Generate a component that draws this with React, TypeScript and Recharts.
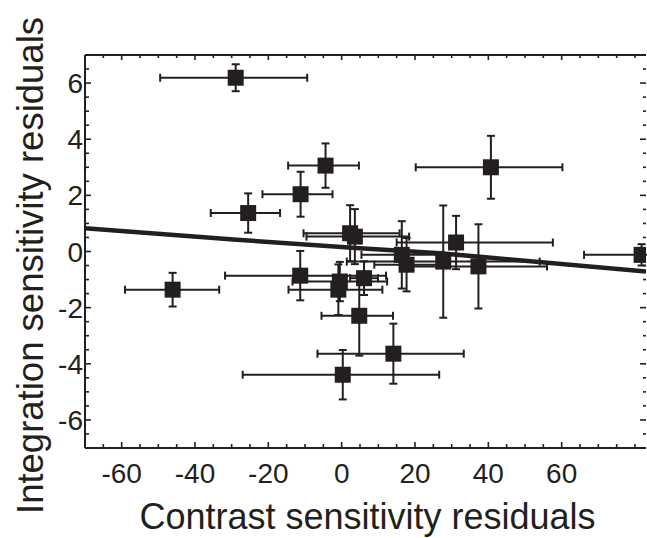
import { ErrorBar, Label, Scatter, ScatterChart, XAxis, YAxis } from "recharts";

const INK = "#231f20";
const FONT = '"Liberation Sans", Arial, sans-serif';

// one entry per subject
const contrastResiduals = [-28.9, -25.5, -11.2, -4.4, 2.3, 3.6, 16.4, 17.7, 31.2, 27.7, 37.3, 81.8, -11.3, -46.1, -0.5, -0.9, 6.1, 4.8, 14.1, 0.3, 40.7];
const integrationResiduals = [6.19, 1.37, 2.04, 3.06, 0.65, 0.53, -0.12, -0.47, 0.32, -0.36, -0.53, -0.12, -0.86, -1.36, -1.07, -1.36, -0.95, -2.29, -3.64, -4.39, 3.0];
const contrastErrLow = [20.6, 10.2, 10.4, 10.2, 12.7, 13.2, 11, 8.8, 16.2, 26.3, 18.7, 15.7, 20.5, 13.0, 12.9, 13.6, 3.8, 10.3, 20.7, 27.3, 20.5];
const contrastErrHigh = [19.5, 8.7, 8.7, 9.1, 13.5, 14.8, 11, 8.8, 26.4, 26.3, 18.7, 15.7, 23.4, 12.7, 12.9, 12.0, 3.8, 9.2, 19.2, 26.3, 19.5];
const integrationErr = [0.48, 0.7, 0.8, 0.79, 1.0, 0.98, 1.2, 0.95, 0.95, 2.0, 1.5, 0.38, 0.88, 0.6, 0.7, 0.9, 0.6, 1.42, 1.07, 0.88, 1.12];

// fitted trend
const fitX = [-70, -28.6, 5, 26.8, 83];
const fitY = [0.83, 0.42, 0.12, -0.06, -0.71];

const X_DOMAIN = [-70, 83];
const Y_DOMAIN = [-7, 7];
const xTickLabels = [-60, -40, -20, 0, 20, 40, 60];
const yTickLabels = [-6, -4, -2, 0, 2, 4, 6];

function steps(from: number, to: number, step: number) {
  const out: number[] = [];
  for (let v = from; v <= to + 1e-9; v += step) out.push(Math.round(v * 100) / 100);
  return out;
}
const xTicks = steps(-70, 80, 5);
const yTicks = steps(-7, 7, 0.5);

const points = contrastResiduals.map((x, i) => ({
  x,
  y: integrationResiduals[i],
  ex: [contrastErrLow[i], contrastErrHigh[i]],
  ey: integrationErr[i],
}));
const fit = fitX.map((x, i) => ({ x, y: fitY[i] }));

const BottomTick = ({ x, y, payload }: any) => {
  const major = xTickLabels.includes(payload.value);
  return (
    <g>
      <line x1={x} x2={x} y1={y} y2={y - (major ? 6 : 4)} stroke={INK} strokeWidth={1.6} />
      {major && (
        <text x={x} y={y + 35} textAnchor="middle" fontSize={28} fontFamily={FONT} fill={INK}>
          {payload.value}
        </text>
      )}
    </g>
  );
};

const TopTick = ({ x, y, payload }: any) => {
  const major = xTickLabels.includes(payload.value);
  return <line x1={x} x2={x} y1={y} y2={y + (major ? 5 : 3)} stroke={INK} strokeWidth={1.6} />;
};

const LeftTick = ({ x, y, payload }: any) => {
  const major = yTickLabels.includes(payload.value);
  return (
    <g>
      <line x1={x} x2={x + (major ? 6 : 4)} y1={y} y2={y} stroke={INK} strokeWidth={1.6} />
      {major && (
        <text x={x - 2} y={y} dy="0.36em" textAnchor="end" fontSize={28} fontFamily={FONT} fill={INK}>
          {payload.value}
        </text>
      )}
    </g>
  );
};

const RightTick = ({ x, y, payload }: any) => {
  const major = yTickLabels.includes(payload.value);
  return <line x1={x} x2={x - (major ? 6 : 3)} y1={y} y2={y} stroke={INK} strokeWidth={1.6} />;
};

const Square = ({ cx, cy }: any) => <rect x={cx - 8} y={cy - 8} width={16} height={16} fill={INK} />;

export default function App() {
  return (
    <div style={{ position: "absolute", left: 0, top: 0, width: 647, height: 538, background: "#fff" }}>
      <ScatterChart width={647} height={538} margin={{ top: 54, right: 0, bottom: 0, left: 0 }}>
        <XAxis
          xAxisId="b"
          dataKey="x"
          type="number"
          domain={X_DOMAIN}
          allowDataOverflow
          ticks={xTicks}
          interval={0}
          tick={<BottomTick />}
          tickLine={false}
          tickSize={0}
          tickMargin={0}
          height={90}
          axisLine={{ stroke: INK, strokeWidth: 2 }}
        >
          <Label
            content={({ viewBox }: any) => (
              <text
                x={viewBox.x + viewBox.width / 2 + 2}
                y={viewBox.y + viewBox.height - 9}
                textAnchor="middle"
                fontSize={36}
                fontFamily={FONT}
                fill={INK}
              >
                Contrast sensitivity residuals
              </text>
            )}
          />
        </XAxis>
        <XAxis
          xAxisId="t"
          orientation="top"
          dataKey="x"
          type="number"
          domain={X_DOMAIN}
          allowDataOverflow
          ticks={xTicks}
          interval={0}
          tick={<TopTick />}
          tickLine={false}
          tickSize={0}
          tickMargin={0}
          height={1}
          axisLine={{ stroke: INK, strokeWidth: 2 }}
        />
        <YAxis
          yAxisId="l"
          dataKey="y"
          type="number"
          domain={Y_DOMAIN}
          allowDataOverflow
          ticks={yTicks}
          interval={0}
          tick={<LeftTick />}
          tickLine={false}
          tickSize={0}
          tickMargin={0}
          width={85}
          axisLine={{ stroke: INK, strokeWidth: 2 }}
        >
          <Label
            content={({ viewBox }: any) => {
              const cx = viewBox.x + 30;
              const cy = viewBox.y + viewBox.height / 2 + 14;
              return (
                <text
                  x={cx}
                  y={cy}
                  transform={`rotate(-90 ${cx} ${cy})`}
                  textAnchor="middle"
                  dominantBaseline="central"
                  fontSize={36.5}
                  fontFamily={FONT}
                  fill={INK}
                >
                  Integration sensitivity residuals
                </text>
              );
            }}
          />
        </YAxis>
        <YAxis
          yAxisId="r"
          orientation="right"
          dataKey="y"
          type="number"
          domain={Y_DOMAIN}
          allowDataOverflow
          ticks={yTicks}
          interval={0}
          tick={<RightTick />}
          tickLine={false}
          tickSize={0}
          tickMargin={0}
          width={1}
          axisLine={false}
        />
        <Scatter
          data={fit}
          xAxisId="t"
          yAxisId="r"
          line={{ stroke: INK, strokeWidth: 4.5 }}
          lineType="joint"
          shape={() => <g />}
          isAnimationActive={false}
        />
        <Scatter data={points} xAxisId="b" yAxisId="l" shape={<Square />} isAnimationActive={false}>
          <ErrorBar dataKey="ex" direction="x" width={4} stroke={INK} strokeWidth={2} />
          <ErrorBar dataKey="ey" direction="y" width={4} stroke={INK} strokeWidth={2} />
        </Scatter>
      </ScatterChart>
    </div>
  );
}
